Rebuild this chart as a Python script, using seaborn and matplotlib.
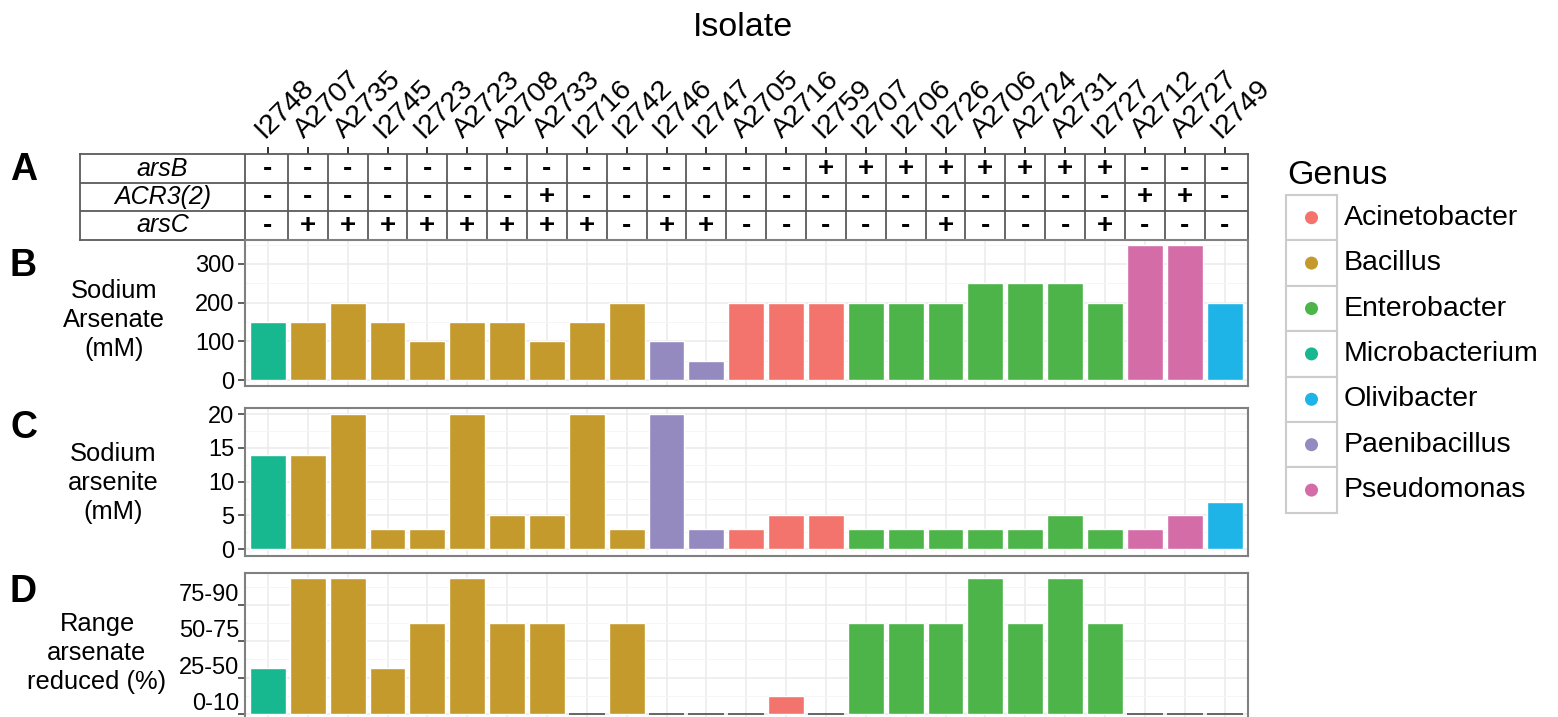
import matplotlib
matplotlib.use('Agg')
import matplotlib.pyplot as plt
import matplotlib.transforms as mtransforms
from matplotlib.patches import Rectangle
import pandas as pd
import seaborn as sns

# --- data ---
isolates = ['I2748', 'A2707', 'A2735', 'I2745', 'I2723', 'A2723', 'A2708', 'A2733', 'I2716',
            'I2742', 'I2746', 'I2747', 'A2705', 'A2716', 'I2759', 'I2707', 'I2706', 'I2726',
            'A2706', 'A2724', 'A2731', 'I2727', 'A2712', 'A2727', 'I2749']
genus = ['Microbacterium', 'Bacillus', 'Bacillus', 'Bacillus', 'Bacillus', 'Bacillus',
         'Bacillus', 'Bacillus', 'Bacillus', 'Bacillus', 'Paenibacillus', 'Paenibacillus',
         'Acinetobacter', 'Acinetobacter', 'Acinetobacter', 'Enterobacter', 'Enterobacter',
         'Enterobacter', 'Enterobacter', 'Enterobacter', 'Enterobacter', 'Enterobacter',
         'Pseudomonas', 'Pseudomonas', 'Olivibacter']
genus_order = ['Acinetobacter', 'Bacillus', 'Enterobacter', 'Microbacterium',
               'Olivibacter', 'Paenibacillus', 'Pseudomonas']
genus_colors = ['#F2746D', '#C49A2D', '#4DB449', '#17B890', '#1FB4E8', '#958AC0', '#D46CA8']

gene_names = ['arsB', 'ACR3(2)', 'arsC']
arsB = ['-', '-', '-', '-', '-', '-', '-', '-', '-', '-', '-', '-', '-', '-',
        '+', '+', '+', '+', '+', '+', '+', '+', '-', '-', '-']
acr3 = ['-', '-', '-', '-', '-', '-', '-', '+', '-', '-', '-', '-', '-', '-',
        '-', '-', '-', '-', '-', '-', '-', '-', '+', '+', '-']
arsC = ['-', '+', '+', '+', '+', '+', '+', '+', '+', '-', '+', '+', '-', '-',
        '-', '-', '-', '+', '-', '-', '-', '+', '-', '-', '-']

arsenate = [150, 150, 200, 150, 100, 150, 150, 100, 150, 200, 100, 50, 200, 200, 200,
            200, 200, 200, 250, 250, 250, 200, 350, 350, 200]
arsenite = [14, 14, 20, 3, 3, 20, 5, 5, 20, 3, 20, 3, 3, 5, 5, 3, 3, 3, 3, 3, 5, 3, 3, 5, 7]
reduced = ['25-50', '75-90', '75-90', '25-50', '50-75', '75-90', '50-75', '50-75', 'none',
           '50-75', 'none', 'none', 'none', '0-10', 'none', '50-75', '50-75', '50-75',
           '75-90', '50-75', '75-90', '50-75', 'none', 'none', 'none']
reduced_levels = ['0-10', '25-50', '50-75', '75-90']
reduced_height = {'none': 0, '0-10': 0.5, '25-50': 1.25, '50-75': 2.5, '75-90': 3.75}

palette = dict(zip(genus_order, genus_colors))
df = pd.DataFrame({'Isolate': isolates, 'Genus': genus, 'Arsenate': arsenate,
                   'Arsenite': arsenite,
                   'Reduced': [reduced_height[r] for r in reduced]})

# --- style ---
sns.set_theme(style="white")
plt.rcParams['font.family'] = ['Liberation Sans', 'DejaVu Sans']
plt.rcParams['text.color'] = 'black'
plt.rcParams['axes.labelcolor'] = 'black'
plt.rcParams['xtick.color'] = 'black'
plt.rcParams['ytick.color'] = 'black'

W, H = 1558, 717
fig = plt.figure(figsize=(W / 100, H / 100), dpi=100)


def px_axes(l, t, r, b):
    return fig.add_axes([l / W, 1 - b / H, (r - l) / W, (b - t) / H])


XMIN, XMAX = -0.575, len(isolates) - 0.425

# --- gene table (panel A) ---
ax_t = px_axes(80, 154.3, 1247.5, 239.5)
lab_left = XMIN - (245 - 80) / (1002.5 / (XMAX - XMIN))
ax_t.set_xlim(lab_left, XMAX)
ax_t.set_ylim(3, 0)
for r, (name, row) in enumerate(zip(gene_names, [arsB, acr3, arsC])):
    ax_t.text((lab_left + XMIN) / 2, r + 0.5, name, style='italic', ha='center',
              va='center', fontsize=18)
    for i, s in enumerate(row):
        ax_t.text(i, r + 0.52, s, ha='center', va='center', fontsize=20, fontweight='bold')
ax_t.hlines([1, 2], lab_left, XMAX, color='#5a5a5a', lw=1.3)
ax_t.vlines([XMIN] + [i + 0.5 for i in range(len(isolates) - 1)], 0, 3, color='#5a5a5a', lw=1.3)
for sp in ax_t.spines.values():
    sp.set_color('#5a5a5a')
    sp.set_linewidth(1.3)
ax_t.set_yticks([])
ax_t.set_xticks(range(len(isolates)))
ax_t.xaxis.tick_top()
ax_t.tick_params(axis='x', length=5, width=1.3, color='#222222', pad=0, labelsize=20.5,
                 top=True, bottom=False, labeltop=True, labelbottom=False)
ax_t.set_xticklabels(isolates, rotation=45, ha='left', va='baseline', rotation_mode='anchor',
                     fontsize=20.5)
top_shift = mtransforms.ScaledTranslation(-4 / 100, 8 / 100, fig.dpi_scale_trans)
for tick in ax_t.xaxis.get_major_ticks():
    tick.label2.set_transform(tick.label2.get_transform() + top_shift)

# --- bar panels ---
panels = [
    ('Arsenate', (245, 240, 1247.5, 386), (-15.5, 362), [0, 100, 200, 300], [50, 150, 250, 350]),
    ('Arsenite', (245, 408.3, 1247.5, 556), (-1.0, 20.86), [0, 5, 10, 15, 20], [2.5, 7.5, 12.5, 17.5]),
    ('Reduced', (245, 572.7, 1247.5, 720), (-0.17, 3.89), [0, 1, 2, 3], [0.5, 1.5, 2.5, 3.5]),
]
axes = []
for col, box, ylim, ticks, minor in panels:
    ax = px_axes(*box)
    sns.barplot(data=df, x='Isolate', y=col, hue='Genus', order=isolates,
                hue_order=genus_order, palette=palette, dodge=False, width=0.9,
                saturation=1, legend=False, ax=ax)
    for p in ax.patches:
        if p.get_height() == 0:
            p.set_edgecolor('#4d4d4d')
            p.set_linewidth(1.2)
    ax.set_xlim(XMIN, XMAX)
    ax.set_ylim(*ylim)
    ax.set_yticks(ticks)
    ax.set_yticks(minor, minor=True)
    ax.set_axisbelow(True)
    ax.grid(True, which='major', color='#EBEBEB', lw=1.1)
    ax.grid(True, which='minor', axis='y', color='#F5F5F5', lw=0.7)
    ax.set_xlabel('')
    ax.set_ylabel('')
    ax.tick_params(axis='x', length=0, labelbottom=False)
    ax.tick_params(axis='y', which='major', left=True, length=5, width=1.1, color='#333333',
                   pad=2.5, labelsize=17, labelcolor='black')
    ax.tick_params(axis='y', which='minor', length=0)
    for sp in ax.spines.values():
        sp.set_color('#808080')
        sp.set_linewidth(1.5)
    axes.append(ax)

ax_d = axes[2]
ax_d.set_yticklabels(reduced_levels)
shift = mtransforms.ScaledTranslation(5 / 100, 12.5 / 100, fig.dpi_scale_trans)
for lbl in ax_d.get_yticklabels():
    lbl.set_transform(lbl.get_transform() + shift)

# --- titles & labels ---
fig.text(743.5 / W, 1 - 28 / H, 'Isolate', ha='center', va='center', fontsize=24.5)
for letter, y in [('A', 170), ('B', 266), ('C', 428), ('D', 592)]:
    fig.text(23.5 / W, 1 - y / H, letter, ha='center', va='center', fontsize=27,
             fontweight='bold')
for txt, x, y in [('Sodium\nArsenate\n(mM)', 114, 320), ('Sodium\narsenite\n(mM)', 113, 483),
                  ('Range\narsenate\nreduced (%)', 97, 653)]:
    fig.text(x / W, 1 - y / H, txt, ha='center', va='center', multialignment='center',
             fontsize=18.4, linespacing=1.25)

# --- legend ---
ax_l = px_axes(1270, 150, 1558, 530)
ax_l.set_xlim(1270, 1558)
ax_l.set_ylim(530, 150)
ax_l.axis('off')
ax_l.text(1287, 175, 'Genus', fontsize=24.5, ha='left', va='center')
row_h = 45.4
for k, g in enumerate(genus_order):
    y0 = 195 + k * row_h
    ax_l.add_patch(Rectangle((1286, y0), 51, row_h, facecolor='white',
                             edgecolor='#CCCCCC', lw=1.5))
    ax_l.scatter(1311.5, y0 + row_h / 2, s=88, color=palette[g], edgecolor='none', zorder=3)
    ax_l.text(1344, y0 + row_h / 2, g, fontsize=20.5, ha='left', va='center')

fig.savefig('out.png', dpi=100)
